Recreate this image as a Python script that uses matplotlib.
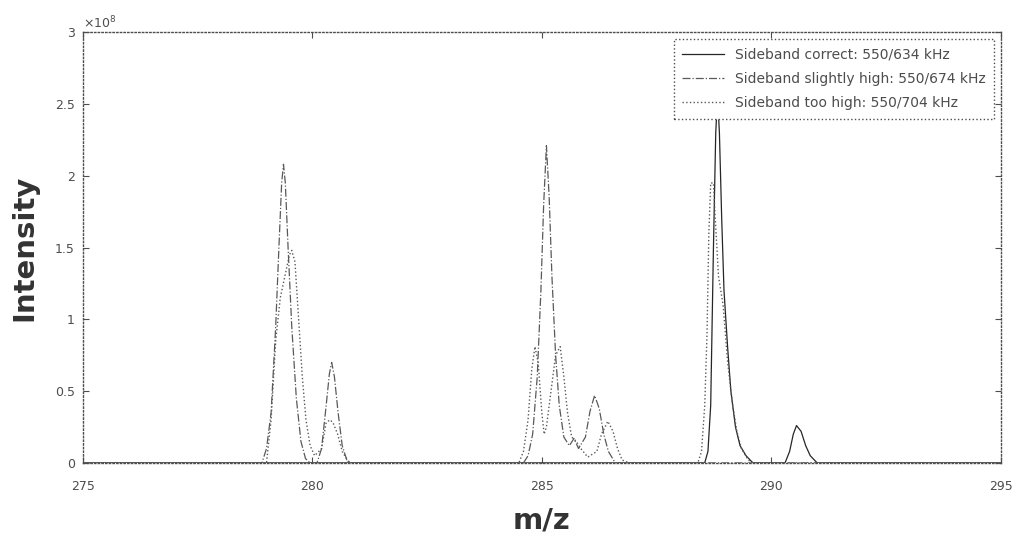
import matplotlib
matplotlib.use("Agg")
import matplotlib.pyplot as plt
from matplotlib.ticker import FuncFormatter
import numpy as np

# intensities in units of 1e8
mz_correct = [275.0, 288.55, 288.62, 288.68, 288.74, 288.79, 288.83, 288.87, 288.92, 288.97,
              289.05, 289.12, 289.22, 289.32, 289.45, 289.6, 290.3, 290.4, 290.48, 290.55,
              290.65, 290.75, 290.85, 291.0, 295.0]
int_correct = [0, 0, 0.08, 0.4, 1.5, 2.3, 2.55, 2.3, 1.7, 1.2,
               0.8, 0.5, 0.25, 0.12, 0.05, 0, 0, 0.08, 0.2, 0.26,
               0.22, 0.12, 0.05, 0, 0]

mz_slight = [275.0, 278.9, 279.0, 279.1, 279.2, 279.27, 279.33, 279.37, 279.41, 279.47,
             279.55, 279.65, 279.75, 279.85, 279.95, 280.1, 280.2, 280.3, 280.37, 280.42,
             280.48, 280.56, 280.65, 280.75, 280.85, 284.6, 284.7, 284.8, 284.9, 284.98,
             285.04, 285.1, 285.16, 285.22, 285.3, 285.38, 285.48, 285.6, 285.7, 285.8,
             285.95, 286.05, 286.15, 286.25, 286.35, 286.45, 286.6, 295.0]
int_slight = [0, 0, 0.1, 0.35, 0.95, 1.5, 1.95, 2.08, 1.95, 1.5,
              0.95, 0.45, 0.15, 0.03, 0, 0, 0.1, 0.4, 0.62, 0.70,
              0.6, 0.35, 0.12, 0.02, 0, 0, 0.05, 0.2, 0.6, 1.2,
              1.8, 2.21, 1.85, 1.3, 0.75, 0.4, 0.18, 0.12, 0.17, 0.1,
              0.18, 0.36, 0.47, 0.38, 0.2, 0.08, 0, 0]

mz_high = [275.0, 279.0, 279.1, 279.2, 279.3, 279.4, 279.5, 279.55, 279.62, 279.7,
           279.78, 279.86, 279.95, 280.05, 280.2, 280.3, 280.38, 280.45, 280.55, 280.65,
           280.8, 284.5, 284.6, 284.7, 284.78, 284.85, 284.92, 285.0, 285.05, 285.1,
           285.2, 285.3, 285.4, 285.48, 285.56, 285.65, 285.75, 285.85, 286.0, 286.2,
           286.3, 286.44, 286.55, 286.65, 286.75, 286.9, 288.4, 288.48, 288.55, 288.6,
           288.64, 288.68, 288.74, 288.78, 288.85, 288.95, 289.05, 289.15, 289.25, 289.35,
           289.5, 289.6, 295.0]
int_high = [0, 0, 0.3, 0.85, 1.15, 1.3, 1.45, 1.48, 1.4, 1.0,
            0.6, 0.3, 0.12, 0.05, 0.1, 0.28, 0.30, 0.28, 0.2, 0.08,
            0, 0, 0.08, 0.3, 0.65, 0.81, 0.7, 0.35, 0.2, 0.25,
            0.5, 0.75, 0.81, 0.6, 0.35, 0.18, 0.15, 0.1, 0.04, 0.08,
            0.2, 0.29, 0.22, 0.1, 0.02, 0, 0, 0.08, 0.4, 0.9,
            1.6, 1.95, 1.95, 1.7, 1.3, 1.1, 0.7, 0.42, 0.22, 0.1,
            0.02, 0, 0]

labels = ["Sideband correct: 550/634 kHz",
          "Sideband slightly high: 550/674 kHz",
          "Sideband too high: 550/704 kHz"]

fig = plt.figure(figsize=(10.18, 5.37), dpi=100)
ax = fig.add_axes([0.0815, 0.138, 0.9015, 0.802])

ax.plot(mz_correct, int_correct, color="0.15", linestyle="-", linewidth=0.9, label=labels[0])
ax.plot(mz_slight, int_slight, color="0.35", linestyle="-.", linewidth=0.9, label=labels[1])
ax.plot(mz_high, int_high, color="0.35", linestyle=":", linewidth=1.0, label=labels[2])

ax.set_xlim(275, 295)
ax.set_ylim(0, 3)
ax.set_xticks([275, 280, 285, 290, 295])
ax.set_yticks([0, 0.5, 1, 1.5, 2, 2.5, 3])
ax.yaxis.set_major_formatter(FuncFormatter(lambda v, p: f"{v:g}"))
ax.tick_params(direction="in", top=True, right=True, labelsize=9, colors="0.3", length=4)
ax.tick_params(axis="x", pad=12)
ax.tick_params(axis="y", pad=6)
for sp in ax.spines.values():
    sp.set_linestyle(":")
    sp.set_color("0.3")
    sp.set_linewidth(1.0)

ax.text(0.0, 1.01, r"$\times10^{8}$", transform=ax.transAxes, fontsize=9, color="0.3")

ax.set_xlabel("m/z", fontsize=21, fontweight="bold", color="0.2", labelpad=10)
ax.set_ylabel("Intensity", fontsize=21, fontweight="bold", color="0.2", labelpad=12)

leg = ax.legend(loc="upper right", fontsize=10, frameon=True, fancybox=False,
                borderaxespad=0.5, handlelength=3.0, labelspacing=0.75,
                borderpad=0.6, framealpha=1.0)
leg.get_frame().set_edgecolor("0.3")
leg.get_frame().set_linestyle(":")
leg.get_frame().set_linewidth(1.0)
for t in leg.get_texts():
    t.set_color("0.3")

fig.savefig("out.png", dpi=100)
